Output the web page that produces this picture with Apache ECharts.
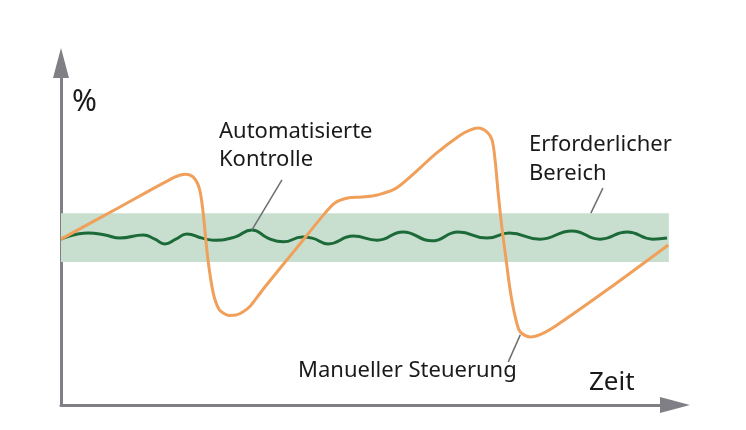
<!DOCTYPE html>
<html>
<head>
<meta charset="utf-8">
<script src="https://cdn.jsdelivr.net/npm/echarts@6/dist/echarts.min.js"></script>
<style>
  html, body { margin: 0; padding: 0; background: #fff; }
  #chart { width: 746px; height: 430px; }
</style>
</head>
<body>
<div id="chart"></div>
<script>
// Zeit (x) / Prozent (y), axis 0..100
var automatisch = [
  [0, 48.5], [4.4, 50.3], [7.2, 49.7], [9.6, 48.8], [13.4, 49.7], [15.3, 48.5],
  [16.9, 47.1], [18.7, 48.5], [20.5, 50.0], [23.0, 48.8], [24.9, 48.2], [28.3, 49.1],
  [31.1, 51.2], [33.7, 48.8], [36.2, 47.7], [39.3, 49.1], [40.9, 48.8], [43.5, 47.1],
  [47.6, 49.4], [51.5, 48.2], [55.7, 50.6], [60.4, 48.0], [64.7, 50.6], [69.4, 48.8],
  [73.0, 50.3], [78.0, 48.5], [83.2, 50.9], [87.8, 48.5], [92.2, 50.6], [96.4, 48.5],
  [98.7, 48.8]
];

var manuell = [
  [0, 48.5], [9.6, 57.9], [18.6, 66.7], [20.2, 67.5], [21.5, 66.7], [22.5, 63.5],
  [23.1, 57.0], [23.9, 43.0], [24.8, 32.7], [25.7, 28.1], [26.7, 26.6], [27.4, 26.2],
  [28.5, 26.3], [29.6, 27.2], [30.8, 28.9], [32.1, 31.9], [33.2, 34.5], [38.1, 45.3],
  [43.0, 56.1], [44.6, 59.1], [46.7, 60.5], [49.0, 60.8], [51.5, 61.4], [54.7, 63.5],
  [61.2, 73.7], [65.0, 78.9], [66.6, 80.4], [67.9, 81.0], [69.4, 79.8], [70.2, 77.5],
  [70.7, 71.6], [71.2, 62.0], [71.8, 52.0], [72.5, 42.4], [73.1, 34.2], [73.8, 27.2],
  [74.6, 21.9], [75.4, 20.5], [76.4, 19.9], [78.3, 20.8], [80.8, 23.4], [88.9, 33.6],
  [98.9, 46.8]
];

// erforderlicher Bereich
var bereichX = [0, 99];
var bereichY = [41.8, 56.1];

var achseFarbe = '#7f7f85';
var schrift = '"Noto Sans", "Open Sans", sans-serif';

var chart = echarts.init(document.getElementById('chart'), null, { renderer: 'canvas' });

function achse() {
  return {
    type: 'value',
    min: 0,
    max: 100,
    axisLine: {
      show: true,
      symbol: ['none', 'triangle'],
      symbolSize: [16, 30],
      lineStyle: { color: achseFarbe, width: 3 }
    },
    axisTick: { show: false },
    axisLabel: { show: false },
    splitLine: { show: false }
  };
}

var option = {
  animation: false,
  backgroundColor: '#fff',
  grid: { left: 61, right: 71, top: 63, bottom: 25 },
  xAxis: achse(),
  yAxis: achse(),
  series: [
    {
      name: 'Bereich',
      type: 'line',
      data: [],
      z: 1,
      silent: true,
      markArea: {
        silent: true,
        itemStyle: { color: '#c8dfd0', opacity: 1 },
        data: [[
          { xAxis: bereichX[0], yAxis: bereichY[0] },
          { xAxis: bereichX[1], yAxis: bereichY[1] }
        ]]
      }
    },
    {
      name: 'Automatisierte Kontrolle',
      type: 'line',
      data: automatisch,
      smooth: 0.5,
      symbol: 'none',
      z: 3,
      lineStyle: { color: '#1d6a39', width: 3 }
    },
    {
      name: 'Manueller Steuerung',
      type: 'line',
      data: manuell,
      smooth: 0.3,
      symbol: 'none',
      z: 4,
      lineStyle: { color: '#f0a05a', width: 3 }
    }
  ]
};
chart.setOption(option);

function px(p) { return chart.convertToPixel({ gridIndex: 0 }, p); }

// Hinweislinien: unteres Ende am Datenpunkt, oberes Ende versetzt
var a = px([31.1, 51.2]);
var b = px([86.3, bereichY[1]]);
var c = px([74.8, 20.5]);

function linie(p, dx, dy) {
  return {
    type: 'line',
    shape: { x1: p[0], y1: p[1], x2: p[0] + dx, y2: p[1] + dy },
    style: { stroke: '#6e6e6e', lineWidth: 1.5 },
    z: 10
  };
}

function text(t, x, y, size) {
  return {
    type: 'text',
    x: x,
    y: y,
    style: {
      text: t,
      font: size + 'px ' + schrift,
      fill: '#1a1a1a',
      textAlign: 'left',
      textVerticalAlign: 'middle'
    },
    z: 10
  };
}

chart.setOption({
  graphic: [
    linie(a, 30, -50),
    linie(b, 12, -25),
    linie(c, -12, 27),
    text('%', 72, 102, 30),
    text('Automatisierte', 219, 132, 22),
    text('Kontrolle', 219, 160, 22),
    text('Erforderlicher', 529, 145, 22),
    text('Bereich', 529, 174, 22),
    text('Manueller Steuerung', 298, 371, 22),
    text('Zeit', 589, 383, 26)
  ]
});
</script>
</body>
</html>
